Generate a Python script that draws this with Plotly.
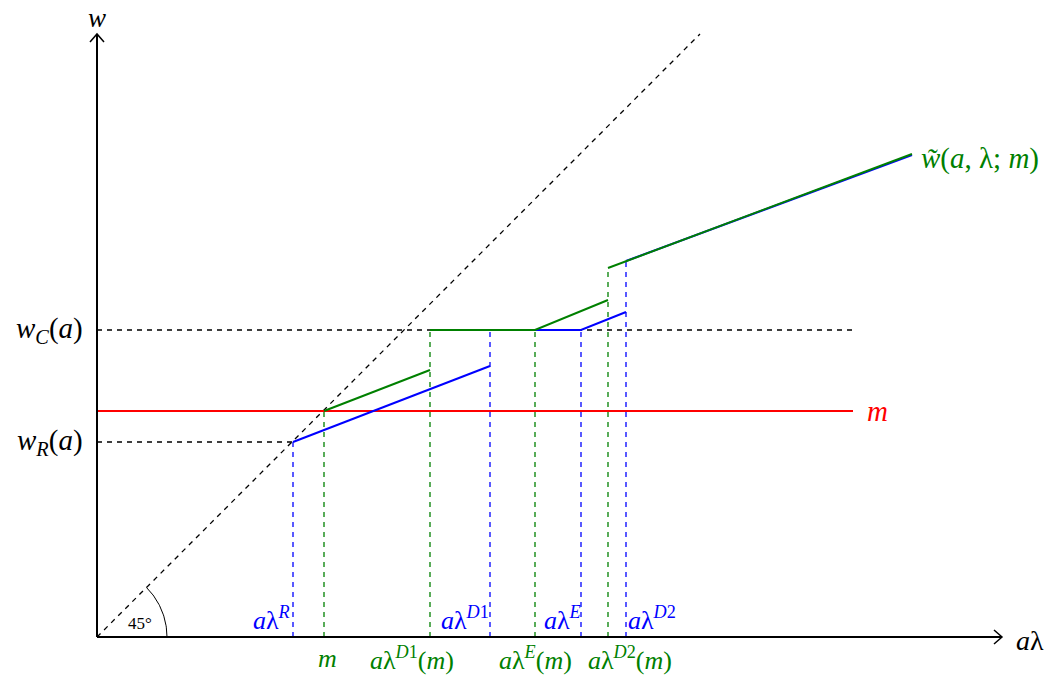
import numpy as np
import plotly.graph_objects as go

# ---- values (1 unit = 100 px of the original drawing) ----
w_R = 1.95          # reservation wage level
w_C = 3.07          # competitive wage level
m_level = 2.26      # minimum wage m

# thresholds on the a*lambda axis
blue_names = ["R", "D1", "E", "D2"]
blue_x = [1.96, 3.93, 4.84, 5.29]
blue_top = [1.95, 3.07, 3.07, 3.76]

green_names = ["m", "D1(m)", "E(m)", "D2(m)"]
green_x = [2.27, 3.33, 4.38, 5.11]
green_top = [2.26, 3.07, 3.07, 3.69]

# wage schedule without minimum wage (blue), piecewise
blue_seg_x = [[1.96, 3.93], [3.93, 4.84, 5.29], [5.29, 8.15]]
blue_seg_y = [[1.95, 2.71], [3.07, 3.07, 3.25], [3.76, 4.82]]
# wage schedule with minimum wage (green), piecewise
green_seg_x = [[2.27, 3.33], [3.33, 4.38, 5.11], [5.11, 8.15]]
green_seg_y = [[2.26, 2.67], [3.07, 3.07, 3.37], [3.69, 4.83]]

BLUE = "#0000ff"
GREEN = "#008000"
RED = "#ff0000"
FONT = "Liberation Serif"

fig = go.Figure()

def line(x, y, color, width=1.2, dash=None):
    fig.add_trace(go.Scatter(x=x, y=y, mode="lines", hoverinfo="skip",
                             line=dict(color=color, width=width, dash=dash),
                             showlegend=False))

DASH = "5px,5px"
DW = 1.3
# 45 degree line
line([0, 6.03], [0, 6.03], "black", DW, DASH)
# horizontal dashed levels
line([0, 7.56], [w_C, w_C], "black", DW, DASH)
line([0, blue_x[0]], [w_R, w_R], "black", DW, DASH)
# vertical dashed guides
for x, t in zip(blue_x, blue_top):
    line([x, x], [0, t], BLUE, DW, DASH)
for x, t in zip(green_x, green_top):
    line([x, x], [0, t], GREEN, DW, DASH)
# minimum wage
line([0, 7.56], [m_level, m_level], RED, 2)
# wage schedules
for xs, ys in zip(blue_seg_x, blue_seg_y):
    line(xs, ys, BLUE, 2)
for xs, ys in zip(green_seg_x, green_seg_y):
    line(xs, ys, GREEN, 2)

# 45 degree arc
th = np.linspace(0, np.pi / 4, 40)
r = 0.70
line(list(r * np.cos(th)), list(r * np.sin(th)), "black", 1)

# axes
line([0, 9.05], [0, 0], "black", 2)
line([0, 0], [0, 6.03], "black", 2)
# arrow heads (open chevrons)
line([8.97, 9.05, 8.97], [0.07, 0, -0.07], "black", 1.5)
line([-0.07, 0, 0.07], [5.95, 6.03, 5.95], "black", 1.5)

def text(x, y, s, color="black", size=26, xanchor="center", yanchor="middle"):
    fig.add_annotation(x=x, y=y, text=s, showarrow=False, xanchor=xanchor,
                       yanchor=yanchor, font=dict(family=FONT, size=size, color=color))

AL = "<i>a</i>λ"
text(0.0, 6.19, "<i>w</i>", size=27)
text(9.33, -0.03, AL, size=28)
text(-0.12, w_C, "<i>w</i><sub><i>C</i></sub>(<i>a</i>)", size=29, xanchor="right")
text(-0.12, w_R, "<i>w</i><sub><i>R</i></sub>(<i>a</i>)", size=29, xanchor="right")
text(8.22, 4.79, "<i>w\u0303</i>(<i>a</i>, λ; <i>m</i>)", GREEN, size=29, xanchor="left")
text(7.8, m_level, "<i>m</i>", RED, size=29)
text(0.43, 0.14, "45°", size=17)

blue_lab_x = [1.74, 3.68, 4.65, 5.55]
for x, n in zip(blue_lab_x, blue_names):
    text(x, 0.19, AL + "<sup><i>" + n[0] + "</i>" + n[1:] + "</sup>", BLUE, size=26)

green_lab_x = [2.30, 3.15, 4.38, 5.33]
green_labels = ["<i>m</i>"] + [AL + "<sup><i>" + n[0] + "</i>" + n[1:n.index("(")] + "</sup>(<i>m</i>)"
                               for n in green_names[1:]]
for x, s in zip(green_lab_x, green_labels):
    text(x, -0.21, s, GREEN, size=26)

# the page body adds an 8px margin, so the figure is 8px smaller and shifted
fig.update_layout(
    width=1051, height=676, autosize=False,
    margin=dict(l=0, r=0, t=0, b=0),
    paper_bgcolor="white", plot_bgcolor="white",
    xaxis=dict(range=[-0.89, 9.62], visible=False, fixedrange=True),
    yaxis=dict(range=[-0.47, 6.29], visible=False, fixedrange=True),
)

fig.write_html("out.html")
